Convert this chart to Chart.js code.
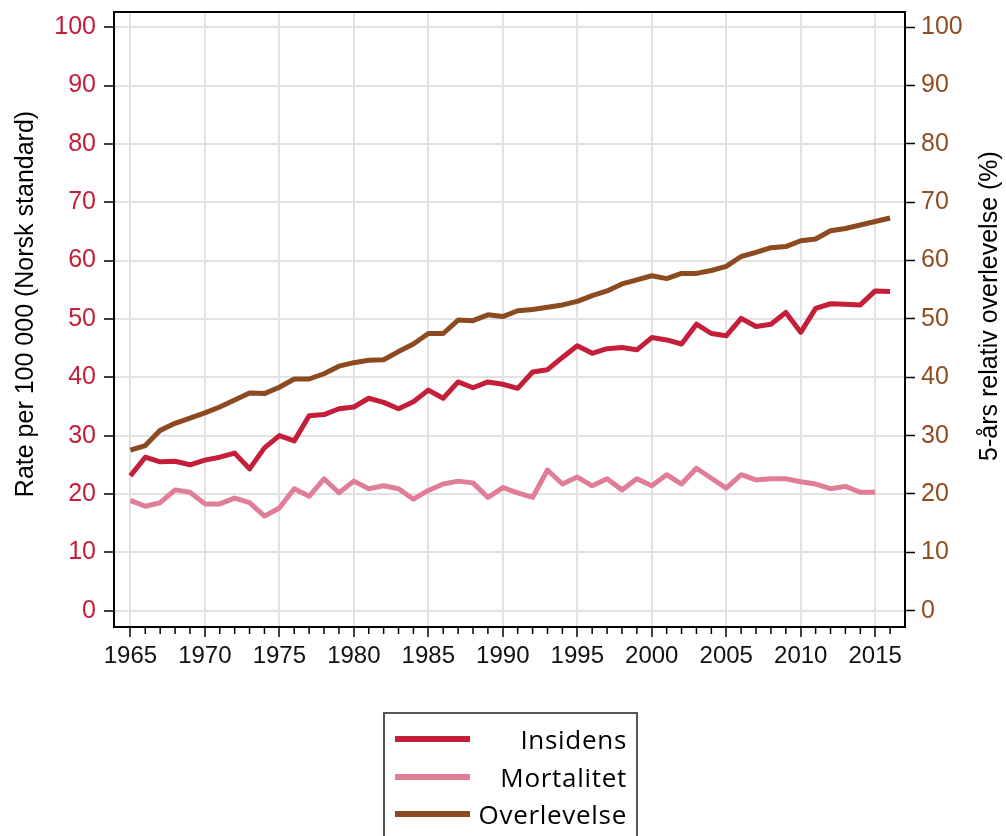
<!DOCTYPE html>
<html lang="no">
<head>
    <meta charset="UTF-8">
    <title>Insidens, mortalitet og overlevelse</title>
    <style>
body {
    margin: 0;
    padding: 0;
    background-color: #fff;
}

#wrap {
    position: relative;
    width: 1006px;
    height: 836px;
}

#legend {
    position: absolute;
    left: 383px;
    top: 712px;
    width: 251px;
    height: 140px;
    border: 2px solid #555;
    font-family: 'Open Sans', 'Noto Sans', sans-serif;
    font-size: 26px;
    letter-spacing: 0.7px;
    color: #000;
}

#legend .row {
    position: absolute;
    left: 0;
    width: 242px;
    height: 36px;
}

#legend .swatch {
    position: absolute;
    left: 10px;
    top: 15px;
    width: 75px;
    height: 6px;
}

#legend .label {
    position: absolute;
    right: 0;
    top: 0;
    line-height: 36px;
}
    </style>
</head>
<body>
    <div id="wrap">
        <canvas id="chart" width="1006" height="836"></canvas>
        <div id="legend"></div>
    </div>

    <script src="https://cdn.jsdelivr.net/npm/chart.js"></script>
    <script>
        // data
        const years = [];
        for (let y = 1965; y <= 2016; y++) years.push(y);

        const insidens = [
            23.1, 26.3, 25.5, 25.6, 25.0, 25.8, 26.3, 27.0, 24.3, 27.9,
            30.0, 29.1, 33.4, 33.6, 34.6, 34.9, 36.4, 35.7, 34.6, 35.8,
            37.8, 36.4, 39.2, 38.2, 39.2, 38.8, 38.1, 40.9, 41.3, 43.4,
            45.4, 44.1, 44.9, 45.1, 44.7, 46.8, 46.4, 45.7, 49.1, 47.5,
            47.1, 50.1, 48.7, 49.1, 51.1, 47.7, 51.8, 52.6, 52.5, 52.4,
            54.8, 54.7
        ];

        const mortalitet = [
            18.9, 17.9, 18.5, 20.7, 20.3, 18.3, 18.3, 19.3, 18.5, 16.2,
            17.6, 20.9, 19.6, 22.6, 20.2, 22.2, 20.9, 21.4, 20.9, 19.1,
            20.6, 21.7, 22.2, 21.9, 19.4, 21.1, 20.2, 19.4, 24.1, 21.7,
            22.9, 21.4, 22.6, 20.7, 22.6, 21.4, 23.3, 21.7, 24.4, 22.7,
            21.0, 23.3, 22.4, 22.6, 22.6, 22.1, 21.7, 20.9, 21.3, 20.3,
            20.3, null
        ];

        const overlevelse = [
            27.5, 28.3, 30.9, 32.1, 33.0, 33.9, 34.9, 36.1, 37.3, 37.2,
            38.3, 39.7, 39.7, 40.6, 41.9, 42.5, 42.9, 43.0, 44.4, 45.7,
            47.5, 47.5, 49.8, 49.7, 50.7, 50.4, 51.4, 51.6, 52.0, 52.4,
            53.0, 54.0, 54.8, 56.0, 56.7, 57.4, 56.9, 57.8, 57.8, 58.3,
            59.0, 60.7, 61.4, 62.2, 62.4, 63.4, 63.7, 65.1, 65.5, 66.1,
            66.7, 67.3
        ];

        const xTicks = [1965, 1970, 1975, 1980, 1985, 1990, 1995, 2000, 2005, 2010, 2015];
        const yTicks = [0, 10, 20, 30, 40, 50, 60, 70, 80, 90, 100];

        const seriesNames = ['Insidens', 'Mortalitet', 'Overlevelse'];
        const colors = ['#c41e3a', '#e07e98', '#8b4a1f'];
        const leftTitle = 'Rate per 100 000 (Norsk standard)';
        const rightTitle = '5-års relativ overlevelse (%)';

        const red = '#c41e3a';
        const brown = '#8f4d20';
        const gridColor = '#e2e2e2';
        const arial = '"Liberation Sans", Arial, sans-serif';

        function points(vals) {
            return years.map((yr, i) => ({ x: yr, y: vals[i] }));
        }

        // keep the plot box where it is in the original, ignore label overflow
        function noPad(axis) {
            axis.paddingTop = 0;
            axis.paddingBottom = 0;
            axis.paddingLeft = 0;
            axis.paddingRight = 0;
        }

        // minor ticks, frame and the two axis titles
        const extras = {
            id: 'extras',
            afterDraw(chart) {
                const c = chart.ctx;
                const a = chart.chartArea;
                const xs = chart.scales.x;
                c.save();
                c.strokeStyle = '#000';
                c.lineWidth = 1.5;
                years.forEach(yr => {
                    if (yr % 5 === 0) return;
                    const px = xs.getPixelForValue(yr);
                    c.beginPath();
                    c.moveTo(px, a.bottom);
                    c.lineTo(px, a.bottom + 7);
                    c.stroke();
                });
                c.lineWidth = 2;
                c.strokeRect(a.left, a.top, a.right - a.left, a.bottom - a.top);

                c.fillStyle = '#000';
                c.font = '25px ' + arial;
                c.textAlign = 'center';
                c.textBaseline = 'middle';
                [[26, 304, leftTitle], [990, 306, rightTitle]].forEach(t => {
                    c.save();
                    c.translate(t[0], t[1]);
                    c.rotate(-Math.PI / 2);
                    c.fillText(t[2], 0, 0);
                    c.restore();
                });
                c.restore();
            }
        };

        const ctx = document.getElementById('chart').getContext('2d');
        const chart = new Chart(ctx, {
            type: 'line',
            data: {
                datasets: [
                    {
                        label: seriesNames[0],
                        data: points(insidens),
                        borderColor: colors[0],
                        yAxisID: 'y'
                    },
                    {
                        label: seriesNames[1],
                        data: points(mortalitet),
                        borderColor: colors[1],
                        yAxisID: 'y'
                    },
                    {
                        label: seriesNames[2],
                        data: points(overlevelse),
                        borderColor: colors[2],
                        yAxisID: 'y2'
                    }
                ]
            },
            options: {
                responsive: false,
                animation: false,
                events: [],
                elements: {
                    point: { radius: 0 },
                    line: { borderWidth: 5, tension: 0, borderJoinStyle: 'round', borderCapStyle: 'butt' }
                },
                layout: { padding: { top: 12, left: 0, right: 0, bottom: 0 } },
                plugins: {
                    legend: { display: false },
                    tooltip: { enabled: false }
                },
                scales: {
                    x: {
                        type: 'linear',
                        min: 1963.9,
                        max: 2017.0,
                        afterBuildTicks: axis => { axis.ticks = xTicks.map(v => ({ value: v })); },
                        afterFit: axis => { axis.height = 209; noPad(axis); },
                        border: { display: false },
                        grid: { color: gridColor, lineWidth: 2, tickLength: 10, tickColor: '#000', tickWidth: 1.5 },
                        ticks: {
                            color: '#111',
                            padding: 5,
                            maxRotation: 0,
                            font: { family: arial, size: 24 },
                            callback: v => String(v)
                        }
                    },
                    y: {
                        position: 'left',
                        min: -2.8,
                        max: 102.6,
                        afterBuildTicks: axis => { axis.ticks = yTicks.map(v => ({ value: v })); },
                        afterFit: axis => { axis.width = 114; noPad(axis); },
                        border: { display: false },
                        grid: { color: gridColor, lineWidth: 2, tickLength: 10, tickColor: '#000', tickWidth: 1.5 },
                        ticks: {
                            color: red,
                            padding: 8,
                            font: { family: arial, size: 25 }
                        }
                    },
                    y2: {
                        position: 'right',
                        min: -2.8,
                        max: 102.6,
                        afterBuildTicks: axis => { axis.ticks = yTicks.map(v => ({ value: v })); },
                        afterFit: axis => { axis.width = 101; noPad(axis); },
                        border: { display: false },
                        grid: { drawOnChartArea: false, tickLength: 10, tickColor: '#000', tickWidth: 1.5 },
                        ticks: {
                            color: brown,
                            padding: 6,
                            font: { family: arial, size: 25 }
                        }
                    }
                }
            },
            plugins: [extras]
        });

        // legend below the chart
        const legend = document.getElementById('legend');
        seriesNames.forEach((name, i) => {
            const row = document.createElement('div');
            row.className = 'row';
            row.style.top = (7 + i * 37.5) + 'px';
            row.innerHTML = '<div class="swatch" style="background:' + colors[i] + '"></div>' +
                '<div class="label">' + name + '</div>';
            legend.appendChild(row);
        });
    </script>
</body>
</html>
